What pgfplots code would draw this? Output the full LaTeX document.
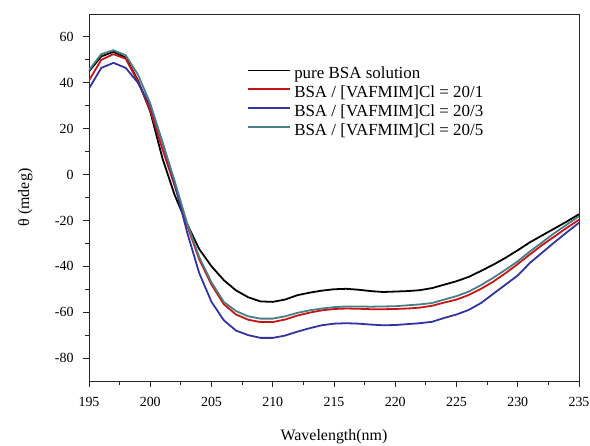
\documentclass[border=0pt]{standalone}
\usepackage{pgfplots}
\pgfplotsset{compat=1.18}
\usepackage{fontspec}
\setmainfont{Liberation Serif}
\definecolor{cRed}{RGB}{200,20,20}
\definecolor{cBlue}{RGB}{50,50,160}
\definecolor{cTeal}{RGB}{75,125,132}
\begin{document}
\begin{tikzpicture}
\begin{axis}[
  scale only axis,
  width=490bp, height=367bp,
  xmin=195, xmax=235, ymin=-90, ymax=70,
  xtick={195,200,...,235},
  ytick={-80,-60,...,60},
  minor x tick num=1, minor y tick num=1,
  tick align=outside, tick pos=left,
  major tick length=6bp, minor tick length=4bp,
  axis line style={line width=1pt, black!85},
  every tick/.style={line width=0.9pt, black!85},
  /pgf/number format/assume math mode=true,
  ticklabel style={font=\fontsize{14}{16}\selectfont},
  xticklabel style={yshift=-7bp},
  yticklabel style={xshift=-6bp},
  xlabel={Wavelength(nm)},
  ylabel={θ (mdeg)},
  every axis x label/.style={at={(axis description cs:0.5,-0.152)},anchor=center,font=\fontsize{16}{19}\selectfont},
  every axis y label/.style={at={(axis description cs:-0.13,0.5)},rotate=90,anchor=center,font=\fontsize{16}{19}\selectfont},
  legend style={at={(0.322,0.86)}, anchor=north west, draw=none, fill=none,
     font=\fontsize{17}{19}\selectfont, row sep=2.5bp, inner sep=0pt,
     nodes={inner xsep=3.5bp, inner ysep=1.5bp}},
  legend cell align=left,
  legend image code/.code={\draw[#1, line width=1.8pt] (0bp,0.32em) -- (42bp,0.32em);},
  every axis plot/.append style={line width=1.8pt, line join=round},
]
\addplot[black] coordinates {
(195,45)(196,51.5)(197,53.5)(198,51)(199,41)(200,27.5)(201,7)(202,-9)(203,-21.5)(204,-32.5)
(205,-40)(206,-46)(207,-50.5)(208,-53.5)(209,-55.3)(210,-55.5)(211,-54.5)(212,-52.6)(213,-51.5)(214,-50.6)
(215,-50)(216,-49.8)(217,-50.2)(218,-50.8)(219,-51.2)(220,-51)(221,-50.8)(222,-50.4)(223,-49.5)(224,-48)
(225,-46.5)(226,-44.6)(227,-42)(228,-39.3)(229,-36.3)(230,-33)(231,-29.5)(232,-26.5)(233,-23.5)(234,-20.5)(235,-17.3)};
\addlegendentry{pure BSA solution}
\addplot[cRed] coordinates {
(195,41)(196,50)(197,52.5)(198,50.5)(199,40.5)(200,28)(201,11)(202,-5)(203,-22)(204,-37)
(205,-48)(206,-56.5)(207,-61)(208,-63.3)(209,-64.3)(210,-64.3)(211,-63.2)(212,-61.5)(213,-60.2)(214,-59.2)
(215,-58.6)(216,-58.4)(217,-58.5)(218,-58.7)(219,-58.7)(220,-58.6)(221,-58.4)(222,-58)(223,-57.2)(224,-55.8)
(225,-54.5)(226,-52.5)(227,-49.8)(228,-46.7)(229,-43)(230,-39)(231,-34.8)(232,-30.7)(233,-27)(234,-23.2)(235,-19.7)};
\addlegendentry{BSA / [VAFMIM]Cl = 20/1}
\addplot[cBlue] coordinates {
(195,37.5)(196,46.5)(197,48.7)(198,46.5)(199,40)(200,30)(201,14)(202,-4)(203,-25)(204,-43)
(205,-55.5)(206,-63.5)(207,-68)(208,-70)(209,-71.2)(210,-71.2)(211,-70.2)(212,-68.5)(213,-67)(214,-65.7)
(215,-65)(216,-64.8)(217,-65)(218,-65.4)(219,-65.7)(220,-65.6)(221,-65.2)(222,-64.8)(223,-64.2)(224,-62.5)
(225,-61)(226,-59)(227,-56)(228,-52)(229,-48)(230,-44)(231,-38.5)(232,-34)(233,-29.5)(234,-25.2)(235,-21)};
\addlegendentry{BSA / [VAFMIM]Cl = 20/3}
\addplot[cTeal] coordinates {
(195,45.5)(196,52.5)(197,54.2)(198,52)(199,43.5)(200,31)(201,14)(202,-3)(203,-21)(204,-36)
(205,-47)(206,-55.5)(207,-59.5)(208,-61.8)(209,-62.8)(210,-62.8)(211,-61.8)(212,-60.3)(213,-59.2)(214,-58.4)
(215,-57.8)(216,-57.5)(217,-57.5)(218,-57.6)(219,-57.5)(220,-57.4)(221,-57)(222,-56.6)(223,-56)(224,-54.5)
(225,-53)(226,-51)(227,-48.2)(228,-45)(229,-41.5)(230,-37.8)(231,-33.5)(232,-29.5)(233,-25.5)(234,-21.8)(235,-18.2)};
\addlegendentry{BSA / [VAFMIM]Cl = 20/5}
\end{axis}
\pgfresetboundingbox
\path[use as bounding box] ([xshift=-89bp,yshift=-64bp]current axis.south west) rectangle ([xshift=11bp,yshift=14bp]current axis.north east);
\end{tikzpicture}
\end{document}
